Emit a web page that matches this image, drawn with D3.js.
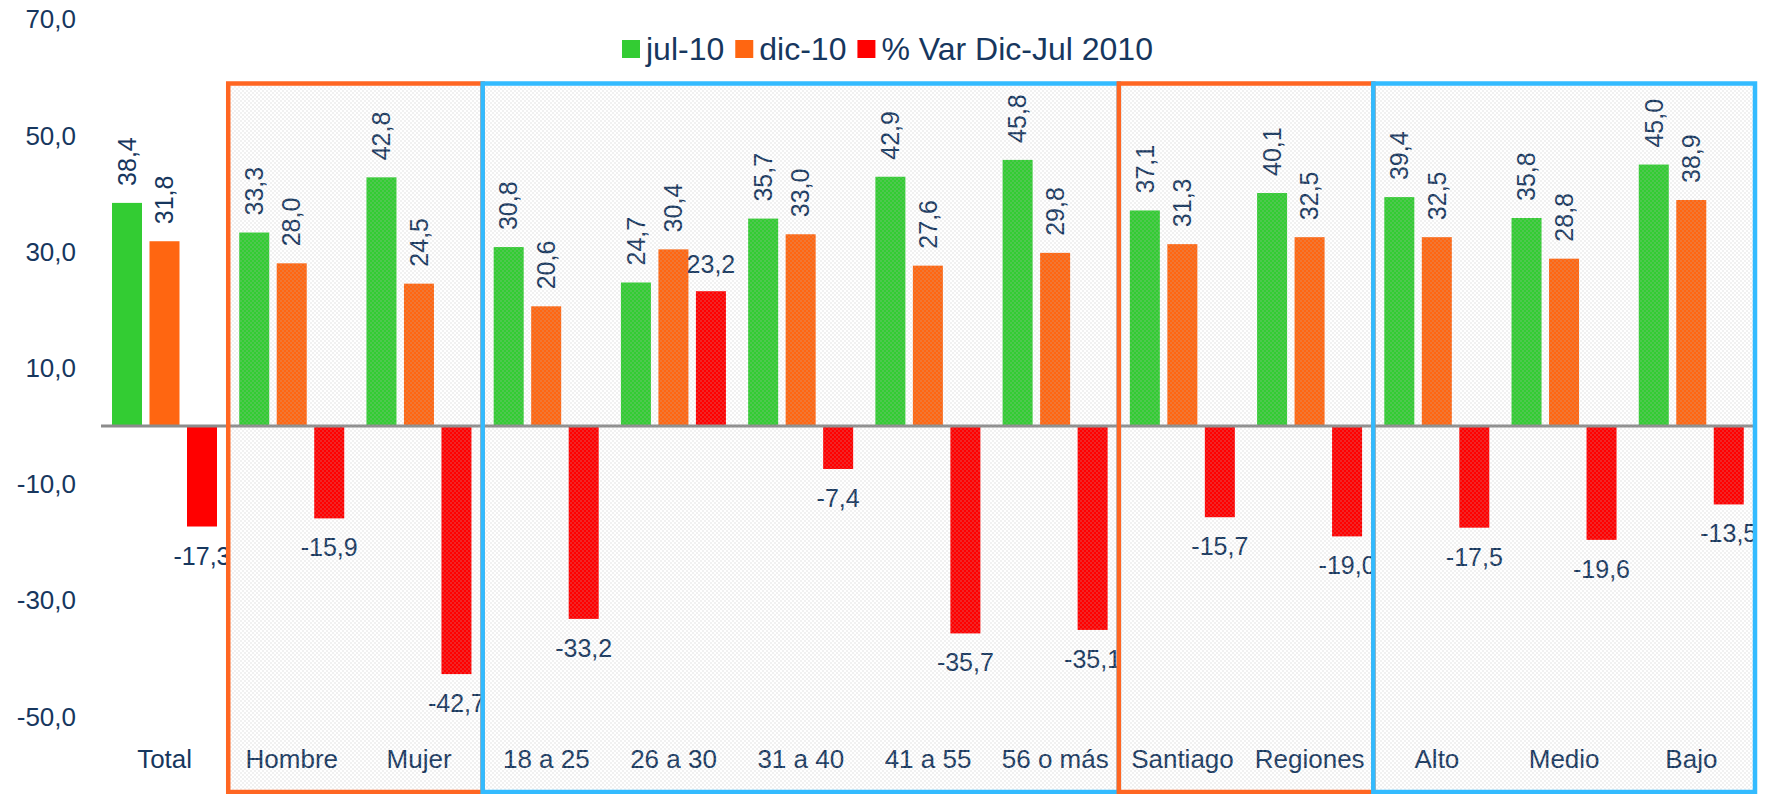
<!DOCTYPE html>
<html>
<head>
<meta charset="utf-8">
<script src="https://cdn.jsdelivr.net/npm/d3@7"></script>
<style>
  html, body { margin: 0; padding: 0; background: #ffffff; }
  svg { display: block; }
  text { font-family: "Liberation Sans", Arial, sans-serif; fill: #17375E; }
</style>
</head>
<body>
<svg id="chart" width="1767" height="794"></svg>
<script>
// Categories and series
const categories = ["Total", "Hombre", "Mujer", "18 a 25", "26 a 30", "31 a 40", "41 a 55",
                    "56 o más", "Santiago", "Regiones", "Alto", "Medio", "Bajo"];
const seriesNames = ["jul-10", "dic-10", "% Var Dic-Jul 2010"];
const jul10 =     [38.4, 33.3, 42.8, 30.8, 24.7, 35.7, 42.9, 45.8, 37.1, 40.1, 39.4, 35.8, 45.0];
const dic10 =     [31.8, 28.0, 24.5, 20.6, 30.4, 33.0, 27.6, 29.8, 31.3, 32.5, 32.5, 28.8, 38.9];
const varDicJul = [-17.3, -15.9, -42.7, -33.2, 23.2, -7.4, -35.7, -35.1, -15.7, -19.0, -17.5, -19.6, -13.5];
const yTicks = [-50, -30, -10, 10, 30, 50, 70];

// Highlighted category groups (first and last category of each frame)
const groupStarts = ["Hombre", "18 a 25", "Santiago", "Alto"];
const groupEnds   = ["Mujer", "56 o más", "Regiones", "Bajo"];

const colors = ["#33CC33", "#FF6611", "#FF0000"];
const frameColors = ["#FF6622", "#33BBFF", "#FF6622", "#33BBFF"];

// Spanish-style decimals: comma separator, plain hyphen for negatives
const locale = d3.formatLocale({ decimal: ",", thousands: ".", grouping: [3], currency: ["", ""], minus: "-" });
const fmt = locale.format(".1f");

const svg = d3.select("#chart");
const defs = svg.append("defs");

// fine checker texture used inside the frames
const pat = defs.append("pattern")
  .attr("id", "checker").attr("width", 4).attr("height", 4)
  .attr("patternUnits", "userSpaceOnUse");
pat.append("rect").attr("x", 0).attr("y", 0).attr("width", 2).attr("height", 2).attr("fill", "#b8b8b8").attr("fill-opacity", 0.2);
pat.append("rect").attr("x", 2).attr("y", 2).attr("width", 2).attr("height", 2).attr("fill", "#b8b8b8").attr("fill-opacity", 0.2);

// Scales
const x0 = d3.scaleBand().domain(categories).range([101, 1755]).padding(0);
const x1 = d3.scaleBand().domain(seriesNames).range([11, 116]).paddingInner(0.2).paddingOuter(0);
const y = d3.scaleLinear().domain([-50, 70]).range([716.5, 19.3]);

const rows = categories.map((c, i) => ({
  cat: c,
  vals: [jul10[i], dic10[i], varDicJul[i]]
}));

// Y tick labels
svg.append("g").selectAll("text")
  .data(yTicks).join("text")
  .attr("x", 76)
  .attr("y", d => y(d))
  .attr("dy", "0.35em")
  .attr("text-anchor", "end")
  .style("font-size", "26px")
  .text(d => fmt(d));

// Bars
const groups = svg.append("g").selectAll("g")
  .data(rows).join("g")
  .attr("transform", d => `translate(${x0(d.cat)},0)`);

groups.selectAll("rect")
  .data(d => d.vals.map((v, k) => ({ v, k })))
  .join("rect")
  .attr("x", d => x1(seriesNames[d.k]))
  .attr("width", x1.bandwidth())
  .attr("y", d => y(Math.max(0, d.v)))
  .attr("height", d => Math.abs(y(d.v) - y(0)))
  .attr("fill", d => colors[d.k]);

// Value labels: vertical for the two months, horizontal for the variation
groups.selectAll("text.vlab")
  .data(d => d.vals.slice(0, 2).map((v, k) => ({ v, k })))
  .join("text")
  .attr("class", "vlab")
  .attr("transform", d => `translate(${x1(seriesNames[d.k]) + x1.bandwidth() / 2},${y(d.v) - 17}) rotate(-90)`)
  .attr("dy", "0.35em")
  .attr("text-anchor", "start")
  .style("font-size", "25px")
  .text(d => fmt(d.v));

groups.append("text")
  .attr("class", "varlab")
  .attr("x", x1(seriesNames[2]) + x1.bandwidth() / 2)
  .attr("y", d => d.vals[2] < 0 ? y(d.vals[2]) + 38 : y(d.vals[2]) - 18)
  .attr("text-anchor", "middle")
  .style("font-size", "25px")
  .text(d => fmt(d.vals[2]));

// Zero line
svg.append("line")
  .attr("x1", x0.range()[0]).attr("x2", x0.range()[1])
  .attr("y1", y(0)).attr("y2", y(0))
  .attr("stroke", "#8c8c8c").attr("stroke-width", 3);

// Category labels
svg.append("g").selectAll("text")
  .data(categories).join("text")
  .attr("x", d => x0(d) + x0.bandwidth() / 2)
  .attr("y", 768)
  .attr("text-anchor", "middle")
  .style("font-size", "26px")
  .text(d => d);

// Frames around category groups
const frames = groupStarts.map((s, i) => ({
  x: x0(s),
  x2: x0(groupEnds[i]) + x0.bandwidth(),
  color: frameColors[i]
}));
const frameTop = 83.5, frameBottom = 792;
svg.append("g").selectAll("rect")
  .data(frames).join("rect")
  .attr("x", d => d.x).attr("y", frameTop)
  .attr("width", d => d.x2 - d.x).attr("height", frameBottom - frameTop)
  .attr("fill", "url(#checker)");
svg.append("g").selectAll("rect")
  .data(frames).join("rect")
  .attr("x", d => d.x).attr("y", frameTop)
  .attr("width", d => d.x2 - d.x).attr("height", frameBottom - frameTop)
  .attr("fill", "none")
  .attr("stroke", d => d.color)
  .attr("stroke-width", 4.5);

// Legend
const legend = svg.append("g");
let lx = 622;
seriesNames.forEach((name, k) => {
  legend.append("rect")
    .attr("x", lx).attr("y", 40).attr("width", 18).attr("height", 18)
    .attr("fill", colors[k]);
  const t = legend.append("text")
    .attr("x", lx + 24).attr("y", 60)
    .style("font-size", "32px")
    .text(name);
  lx += 24 + t.node().getComputedTextLength() + 11;
});
</script>
</body>
</html>
